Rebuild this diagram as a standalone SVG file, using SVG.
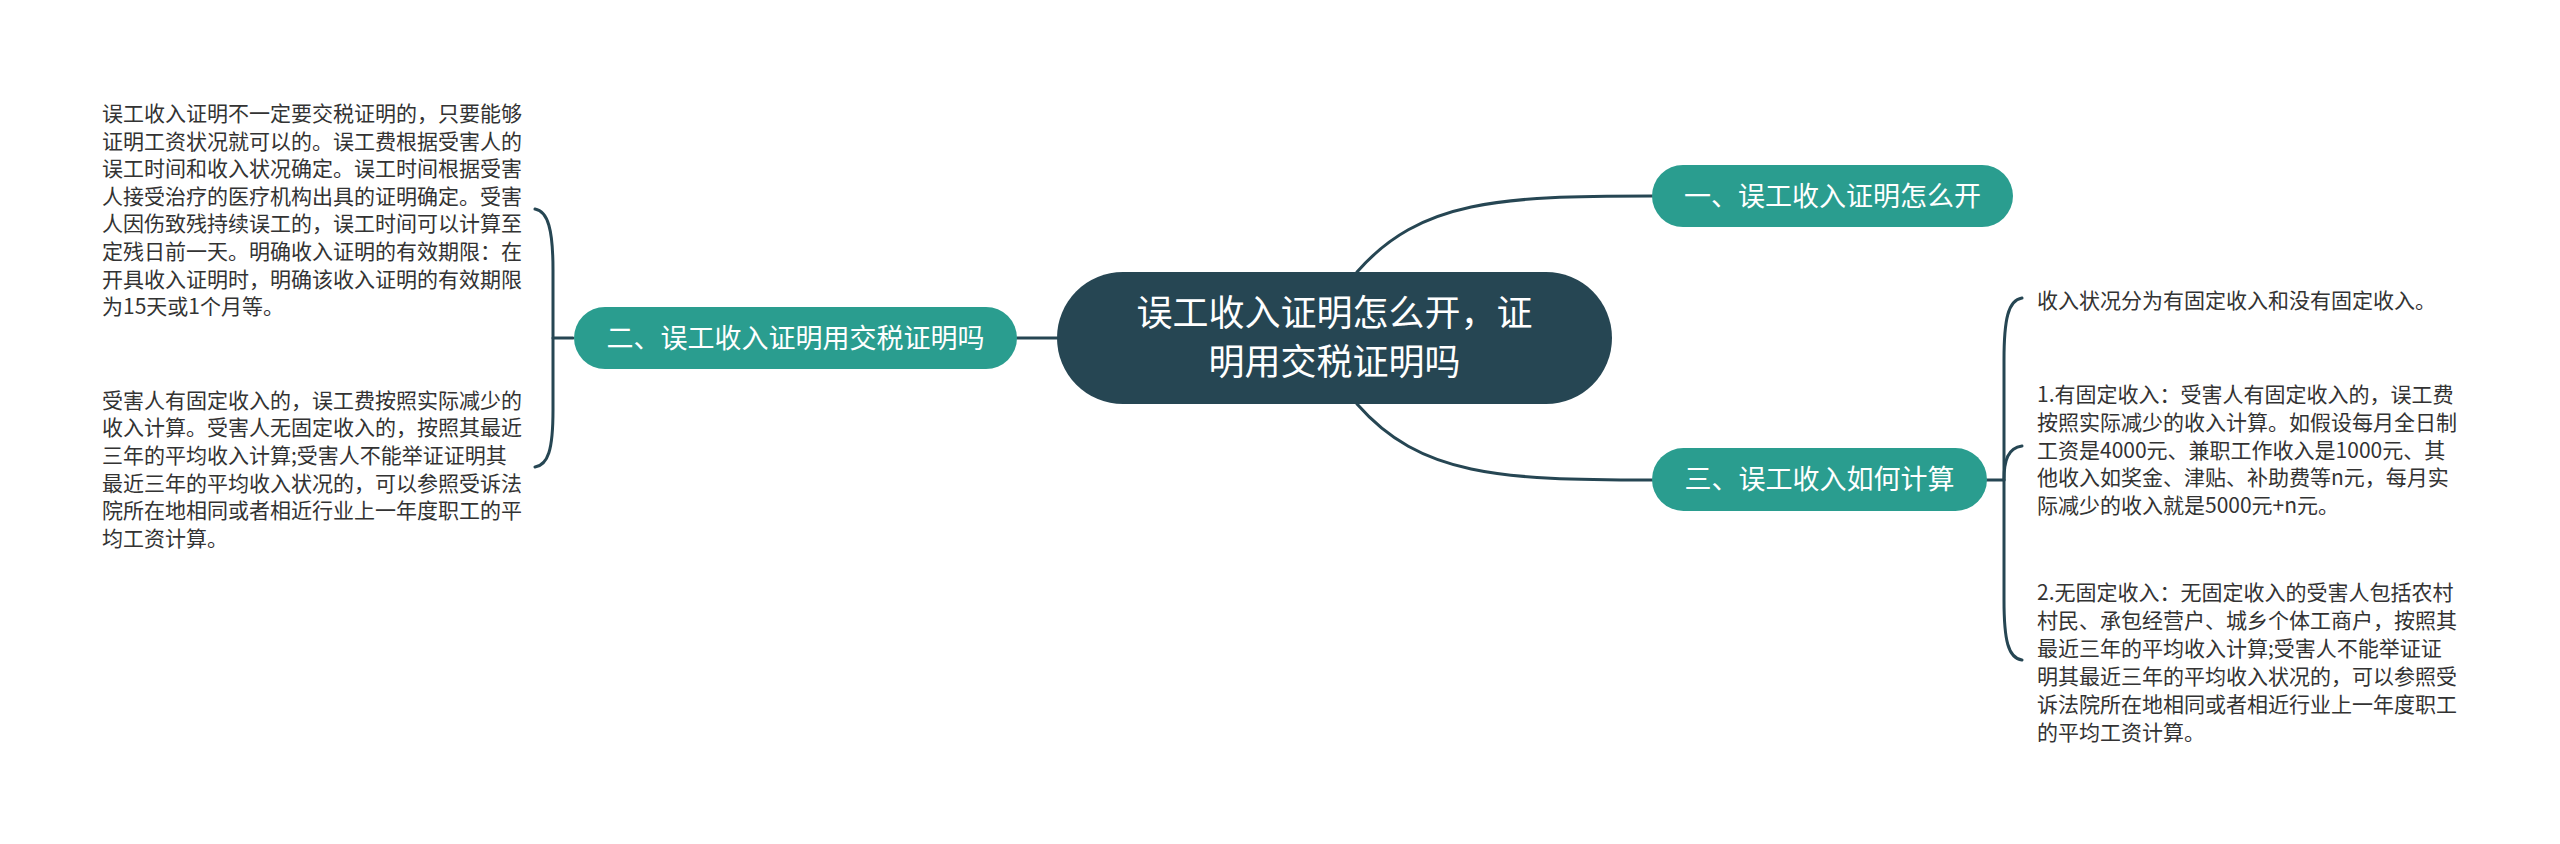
<svg xmlns="http://www.w3.org/2000/svg" width="2560" height="844" viewBox="0 0 2560 844">
<style>
.bg{fill:#ffffff}
.link{fill:none;stroke:#264653;stroke-width:3;stroke-linecap:round}
.root rect{fill:#264653}
.topic rect{fill:#2a9d8f}
.root text{font-family:"Noto Sans CJK SC","Liberation Sans",sans-serif;font-size:36px;fill:#ffffff;text-anchor:middle}
.topic text{font-family:"Noto Sans CJK SC","Liberation Sans",sans-serif;font-size:27px;fill:#ffffff;text-anchor:middle}
.leaf text{font-family:"Noto Sans CJK SC","Liberation Sans",sans-serif;font-size:21px;fill:#333333}
</style>
<rect class="bg" x="0" y="0" width="2560" height="844"/>
<g id="connectors">
<path class="link" d="M1357,272 C1420,200 1500,196 1652,196"/>
<path class="link" d="M1357,404 C1420,476 1500,480 1652,480"/>
<path class="link" d="M1017,338 L1057,338"/>
<path class="link" d="M573,338 L553,338"/>
<path class="link" d="M535,209 C548,211 553,230 553,270 L553,410 C553,450 548,465 535,467"/>
<path class="link" d="M1987,480 L2004,480"/>
<path class="link" d="M2022,298 C2008,300 2004,320 2004,360 L2004,600 C2004,640 2008,658 2022,660"/>
<path class="link" d="M2022,446 C2008,448 2004,460 2004,480"/>
</g>
<g id="root" class="root">
<rect x="1057" y="272" width="555" height="132" rx="66"/>
<text x="1334.5" y="326">误工收入证明怎么开，证</text>
<text x="1334.5" y="375">明用交税证明吗</text>
</g>
<g id="topic1" class="topic">
<rect x="1652" y="165" width="361" height="62" rx="31"/>
<text x="1832.5" y="205.5">一、误工收入证明怎么开</text>
</g>
<g id="topic2" class="topic">
<rect x="574" y="307" width="443" height="62" rx="31"/>
<text x="795.5" y="347.5">二、误工收入证明用交税证明吗</text>
</g>
<g id="topic3" class="topic">
<rect x="1652" y="448" width="335" height="63" rx="31.5"/>
<text x="1819.5" y="489">三、误工收入如何计算</text>
</g>
<g id="leaf2a" class="leaf">
<text x="102" y="121">误工收入证明不一定要交税证明的，只要能够</text>
<text x="102" y="148.6">证明工资状况就可以的。误工费根据受害人的</text>
<text x="102" y="176.2">误工时间和收入状况确定。误工时间根据受害</text>
<text x="102" y="203.8">人接受治疗的医疗机构出具的证明确定。受害</text>
<text x="102" y="231.4">人因伤致残持续误工的，误工时间可以计算至</text>
<text x="102" y="259">定残日前一天。明确收入证明的有效期限：在</text>
<text x="102" y="286.6">开具收入证明时，明确该收入证明的有效期限</text>
<text x="102" y="314.2">为15天或1个月等。</text>
</g>
<g id="leaf2b" class="leaf">
<text x="102" y="407.5">受害人有固定收入的，误工费按照实际减少的</text>
<text x="102" y="435.2">收入计算。受害人无固定收入的，按照其最近</text>
<text x="102" y="462.9">三年的平均收入计算;受害人不能举证证明其</text>
<text x="102" y="490.6">最近三年的平均收入状况的，可以参照受诉法</text>
<text x="102" y="518.3">院所在地相同或者相近行业上一年度职工的平</text>
<text x="102" y="546">均工资计算。</text>
</g>
<g id="leaf3a" class="leaf">
<text x="2037" y="308">收入状况分为有固定收入和没有固定收入。</text>
</g>
<g id="leaf3b" class="leaf">
<text x="2037" y="402">1.有固定收入：受害人有固定收入的，误工费</text>
<text x="2037" y="429.8">按照实际减少的收入计算。如假设每月全日制</text>
<text x="2037" y="457.6">工资是4000元、兼职工作收入是1000元、其</text>
<text x="2037" y="485.4">他收入如奖金、津贴、补助费等n元，每月实</text>
<text x="2037" y="513.2">际减少的收入就是5000元+n元。</text>
</g>
<g id="leaf3c" class="leaf">
<text x="2037" y="600">2.无固定收入：无固定收入的受害人包括农村</text>
<text x="2037" y="628">村民、承包经营户、城乡个体工商户，按照其</text>
<text x="2037" y="656">最近三年的平均收入计算;受害人不能举证证</text>
<text x="2037" y="684">明其最近三年的平均收入状况的，可以参照受</text>
<text x="2037" y="712">诉法院所在地相同或者相近行业上一年度职工</text>
<text x="2037" y="740">的平均工资计算。</text>
</g>
</svg>
